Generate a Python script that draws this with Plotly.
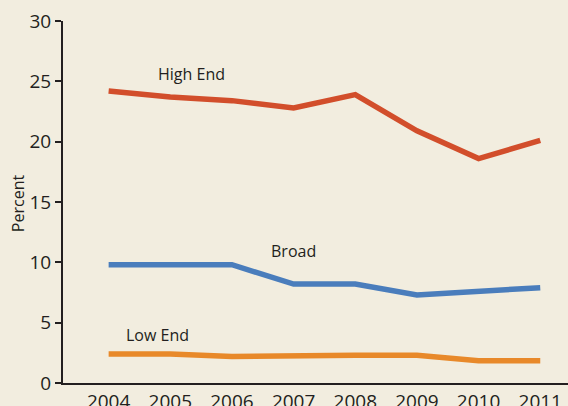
import plotly.graph_objects as go

years = [2004, 2005, 2006, 2007, 2008, 2009, 2010, 2011]
high_end = [24.2, 23.7, 23.4, 22.8, 23.9, 20.9, 18.6, 20.1]
broad = [9.8, 9.8, 9.8, 8.2, 8.2, 7.3, 7.6, 7.9]
low_end = [2.4, 2.4, 2.2, 2.3, 2.3, 2.3, 1.85, 1.85]
y_ticks = [0, 5, 10, 15, 20, 25, 30]

bg = "#F2EDDF"
font = "Open Sans"

fig = go.Figure()
for vals, col in [(high_end, "#D24E2B"), (broad, "#4A7DBC"), (low_end, "#E8892A")]:
    fig.add_trace(go.Scatter(x=years, y=vals, mode="lines",
                             line=dict(color=col, width=5.5),
                             showlegend=False, hoverinfo="skip"))

fig.add_annotation(x=2005.35, y=25.6, text="High End", showarrow=False,
                   font=dict(family=font, size=16, color="#231F20"))
fig.add_annotation(x=2007.0, y=10.9, text="Broad", showarrow=False,
                   font=dict(family=font, size=16, color="#231F20"))
fig.add_annotation(x=2004.8, y=4.0, text="Low End", showarrow=False,
                   font=dict(family=font, size=16, color="#231F20"))
fig.add_annotation(xref="paper", yref="paper", x=-0.089, y=0.497, text="Percent",
                   textangle=-90, showarrow=False, xanchor="center", yanchor="middle",
                   font=dict(family=font, size=16, color="#231F20"))

fig.update_layout(
    width=568, height=406,
    margin=dict(l=63, r=0, t=21, b=23, autoexpand=False),
    paper_bgcolor=bg, plot_bgcolor=bg,
    font=dict(family=font, color="#231F20"),
    xaxis=dict(range=[2003.26, 2011.45], tickvals=years, ticktext=[str(y) for y in years],
               showgrid=False, zeroline=False, showline=True, linecolor="#231F20",
               linewidth=2, ticks="", automargin=False, ticklabelstandoff=0,
               tickfont=dict(size=19, family=font)),
    yaxis=dict(range=[0, 30], tickvals=y_ticks, showgrid=False, zeroline=False,
               showline=True, linecolor="#231F20", linewidth=2, ticks="outside",
               ticklen=6, tickwidth=1.5, tickcolor="#231F20", automargin=False,
               tickfont=dict(size=19, family=font)),
)

fig.write_html("out.html", config={"displayModeBar": False},
               post_script="document.body.style.margin='0';document.body.style.overflow='hidden';document.body.style.background='" + bg + "';")
